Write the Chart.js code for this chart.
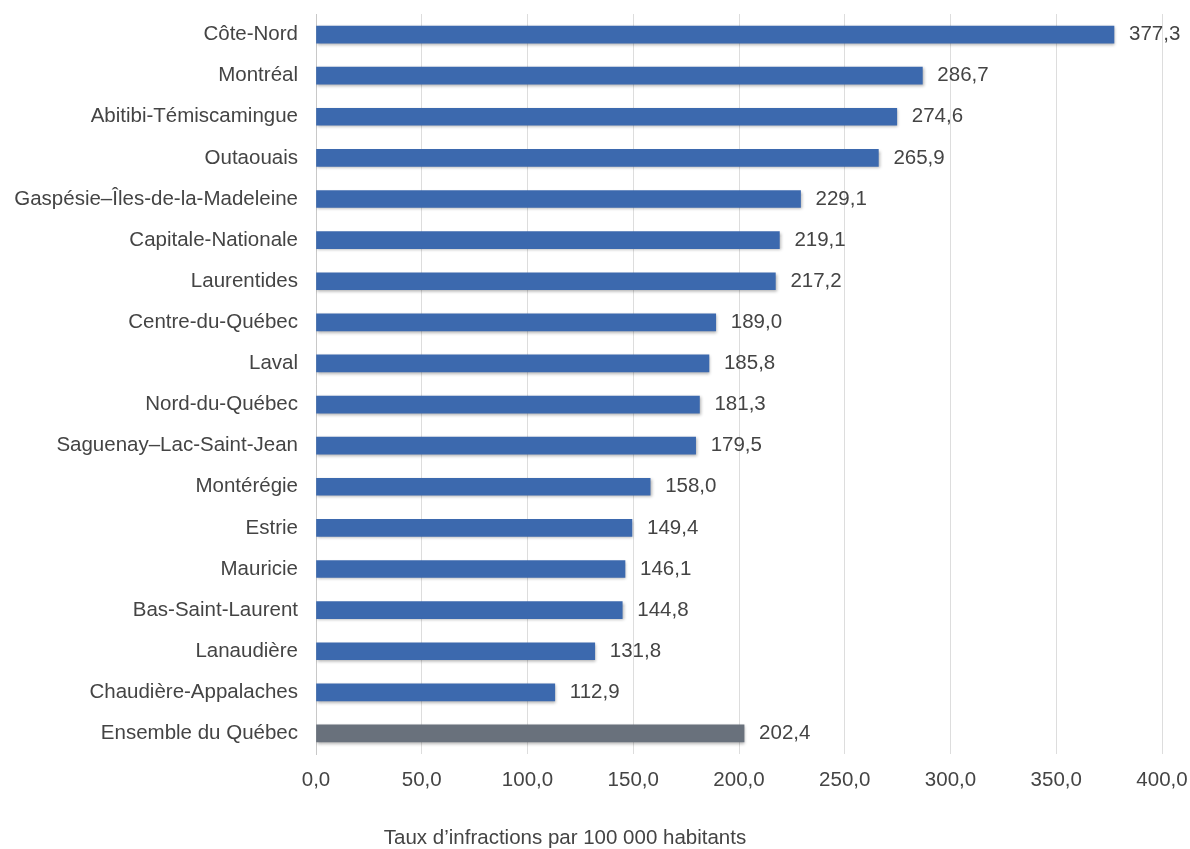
<!DOCTYPE html>
<html lang="fr">
<head>
<meta charset="utf-8">
<title>Taux d'infractions par région</title>
<script src="https://cdn.jsdelivr.net/npm/chart.js@4/dist/chart.umd.min.js"></script>
<style>
    html, body { margin: 0; padding: 0; background: #ffffff; }
    #wrap { width: 1190px; height: 849px; }
</style>
</head>
<body>
<div id="wrap"><canvas id="chart" width="1190" height="849"></canvas></div>
<script>
const regions = [
    'Côte-Nord', 'Montréal', 'Abitibi-Témiscamingue', 'Outaouais',
    'Gaspésie–Îles-de-la-Madeleine', 'Capitale-Nationale', 'Laurentides',
    'Centre-du-Québec', 'Laval', 'Nord-du-Québec', 'Saguenay–Lac-Saint-Jean',
    'Montérégie', 'Estrie', 'Mauricie', 'Bas-Saint-Laurent', 'Lanaudière',
    'Chaudière-Appalaches', 'Ensemble du Québec',
];
const rates = [
    377.3, 286.7, 274.6, 265.9, 229.1, 219.1, 217.2, 189.0, 185.8,
    181.3, 179.5, 158.0, 149.4, 146.1, 144.8, 131.8, 112.9, 202.4,
];
const xTicks = [0, 50, 100, 150, 200, 250, 300, 350, 400];
const axisTitle = 'Taux d’infractions par 100 000 habitants';

const textColor = '#444444';
const fontFamily = '"Liberation Sans", Arial, sans-serif';
const fontSize = 20.5;
const fmt = (v) => v.toFixed(1).replace('.', ',');

const barColors = regions.map((r) => (r === 'Ensemble du Québec' ? '#69717c' : '#3c69ae'));

const barShadow = {
    id: 'barShadow',
    beforeDatasetsDraw(chart) {
        const ctx = chart.ctx;
        ctx.save();
        ctx.shadowColor = 'rgba(0, 0, 0, 0.3)';
        ctx.shadowBlur = 3;
        ctx.shadowOffsetX = 1;
        ctx.shadowOffsetY = 1.5;
    },
    afterDatasetsDraw(chart) {
        chart.ctx.restore();
    },
};

const valueLabels = {
    id: 'valueLabels',
    afterDatasetsDraw(chart) {
        const ctx = chart.ctx;
        const meta = chart.getDatasetMeta(0);
        ctx.save();
        ctx.font = fontSize + 'px ' + fontFamily;
        ctx.fillStyle = textColor;
        ctx.textAlign = 'left';
        ctx.textBaseline = 'middle';
        meta.data.forEach((bar, i) => {
            ctx.fillText(fmt(rates[i]), bar.x + 15, bar.y);
        });
        ctx.restore();
    },
};

// axis title sits off-centre in the original, so it is drawn by hand
const bottomTitle = {
    id: 'bottomTitle',
    afterDraw(chart) {
        const ctx = chart.ctx;
        ctx.save();
        ctx.font = fontSize + 'px ' + fontFamily;
        ctx.fillStyle = textColor;
        ctx.textAlign = 'center';
        ctx.textBaseline = 'middle';
        ctx.fillText(axisTitle, 565, 838);
        ctx.restore();
    },
};

new Chart(document.getElementById('chart'), {
    type: 'bar',
    data: {
        labels: regions,
        datasets: [{
            data: rates,
            backgroundColor: barColors,
            borderWidth: 0,
            barThickness: 17,
        }],
    },
    options: {
        indexAxis: 'y',
        responsive: false,
        animation: false,
        layout: { padding: { top: 14, right: 28, bottom: 0, left: 0 } },
        plugins: {
            legend: { display: false },
            tooltip: { enabled: false },
        },
        scales: {
            x: {
                min: 0,
                max: 400,
                afterBuildTicks(axis) {
                    axis.ticks = xTicks.map((v) => ({ value: v }));
                },
                grid: { color: '#dddddd', lineWidth: 1, drawTicks: false },
                border: { display: false },
                ticks: {
                    color: textColor,
                    font: { family: fontFamily, size: fontSize },
                    padding: 14,
                    maxRotation: 0,
                    callback: (v) => fmt(v),
                },
                afterFit(axis) {
                    axis.height = 95;
                    axis.paddingLeft = 0;
                    axis.paddingRight = 0;
                },
            },
            y: {
                grid: { display: false, drawTicks: false },
                border: { display: true, color: '#c8c8c8', width: 1 },
                ticks: {
                    color: textColor,
                    font: { family: fontFamily, size: fontSize },
                    padding: 18,
                    autoSkip: false,
                },
                afterFit(axis) {
                    axis.width = 316;
                    axis.paddingTop = 0;
                    axis.paddingBottom = 0;
                },
            },
        },
    },
    plugins: [barShadow, valueLabels, bottomTitle],
});
</script>
</body>
</html>
